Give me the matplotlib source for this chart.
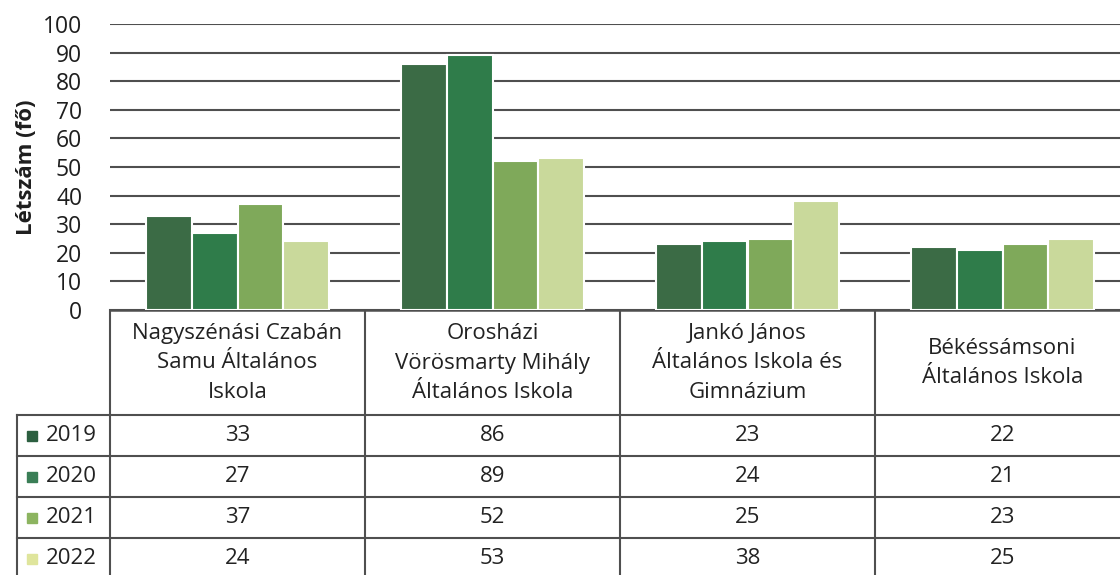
import matplotlib
matplotlib.use("Agg")
import matplotlib.pyplot as plt
import numpy as np

plt.rcParams['font.family'] = ['Open Sans', 'DejaVu Sans']

schools = ["Nagyszénási Czabán\nSamu Általános\nIskola",
           "Orosházi\nVörösmarty Mihály\nÁltalános Iskola",
           "Jankó János\nÁltalános Iskola és\nGimnázium",
           "Békéssámsoni\nÁltalános Iskola"]
years = ["2019", "2020", "2021", "2022"]
v2019 = [33, 86, 23, 22]
v2020 = [27, 89, 24, 21]
v2021 = [37, 52, 25, 23]
v2022 = [24, 53, 38, 25]
values = [v2019, v2020, v2021, v2022]

bar_colors = ["#3b6b45", "#2f7c4a", "#7fa95a", "#c9d99b"]
leg_colors = ["#2c5f40", "#3a7e56", "#8cb460", "#dfe59c"]
line_col = "#4f4f4f"

fig = plt.figure(figsize=(11.2, 5.75), dpi=100)
W, H = 1120, 575

# bar chart area
ax = fig.add_axes([110 / W, (H - 310) / H, 1020 / W, 286 / H])
x = np.arange(len(schools))
bw = 0.18
for i, vals in enumerate(values):
    ax.bar(x + (i - 1.5) * bw, vals, bw, color=bar_colors[i],
           edgecolor="white", linewidth=1.5, zorder=3)

ax.set_xlim(-0.5, 3.5)
ax.set_ylim(0, 100)
ax.set_yticks(range(0, 101, 10))
ax.tick_params(axis="y", length=0, labelsize=16.5, pad=20, labelcolor="#1e1e1e")
ax.set_xticks([])
ax.grid(axis="y", color=line_col, linewidth=1.5, zorder=0)
for s in ax.spines.values():
    s.set_visible(False)
ax.set_ylabel("Létszám (fő)", fontsize=16, fontweight="bold", labelpad=4,
              color="#1e1e1e")

# data table drawn under the plot, in pixel coordinates
tb = fig.add_axes([0, 0, 1, 1], zorder=-1)
tb.set_xlim(0, W)
tb.set_ylim(H, 0)
tb.axis("off")

def px(xd):
    return ax.transData.transform((xd, 0))[0] * 100 / fig.dpi

bounds = [px(b) for b in np.arange(-0.5, 4.0, 1.0)]
centers = [px(c) for c in x]
left = 17
rows_y = [310, 415, 456, 497, 538, 579]

tb.plot([bounds[0], W + 20], [310, 310], color=line_col, lw=1.8)
for yy in rows_y[1:]:
    tb.plot([left, W + 20], [yy, yy], color=line_col, lw=1.5)
for b in bounds:
    tb.plot([b, b], [310, H + 10], color=line_col, lw=1.5)
tb.plot([left, left], [415, H + 10], color=line_col, lw=1.5)

for c, name in zip(centers, schools):
    tb.text(c, 363, name, ha="center", va="center", fontsize=16,
            color="#222222", linespacing=1.55)

for r, (yr, vals) in enumerate(zip(years, values)):
    yc = (rows_y[r + 1] + rows_y[r + 2]) / 2
    tb.add_patch(plt.Rectangle((27, yc - 5), 10, 10, color=leg_colors[r]))
    tb.text(46, yc, yr, ha="left", va="center", fontsize=16, color="#222222")
    for c, v in zip(centers, vals):
        tb.text(c, yc, str(v), ha="center", va="center", fontsize=16,
                color="#222222")

fig.savefig("out.png", dpi=100)
